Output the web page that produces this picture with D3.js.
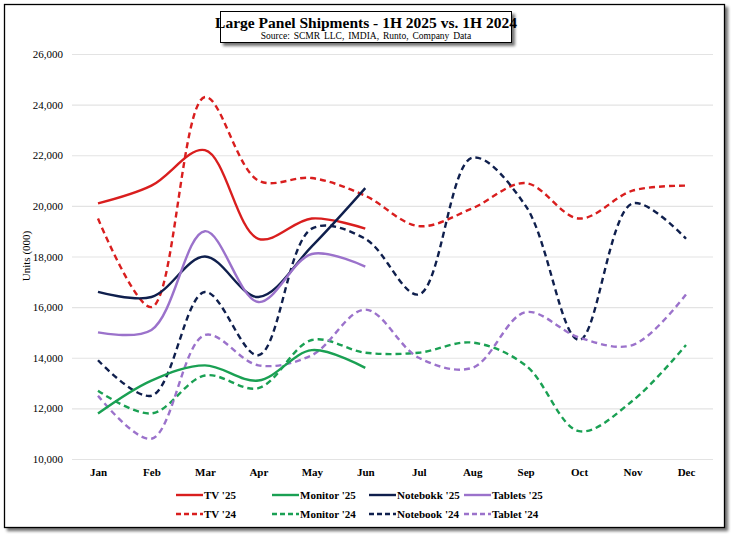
<!DOCTYPE html>
<html><head><meta charset="utf-8">
<script src="https://cdn.jsdelivr.net/npm/d3@7"></script>
<style>body{margin:0;background:#fff}svg{display:block}</style>
</head><body><svg id="c" width="737" height="540"></svg>
<script>
const months = ["Jan","Feb","Mar","Apr","May","Jun","Jul","Aug","Sep","Oct","Nov","Dec"];
const yTicks = [10000,12000,14000,16000,18000,20000,22000,24000,26000];
const tv25 = [20100,20800,22200,18700,19500,19100];
const tv24 = [19500,16000,24300,21000,21100,20400,19200,19900,20900,19500,20600,20800];
const monitor25 = [11800,13100,13700,13100,14300,13600];
const monitor24 = [12700,11800,13300,12800,14700,14200,14200,14600,13700,11100,12300,14500];
const notebook25 = [16600,16400,18000,16400,18400,20700];
const notebook24 = [13900,12500,16600,14100,19100,18700,16500,21900,20000,14700,20100,18700];
const tablets25 = [15000,15100,19000,16200,18100,17600];
const tablet24 = [12500,10800,14900,13700,14100,15900,14000,13600,15800,14800,14500,16500];

const series = [
  {name:"TV '25", data:tv25, color:"#d91e1e", dash:null},
  {name:"Monitor '25", data:monitor25, color:"#1aa053", dash:null},
  {name:"Notebokk '25", data:notebook25, color:"#0f1f4d", dash:null},
  {name:"Tablets '25", data:tablets25, color:"#9b72cb", dash:null},
  {name:"TV '24", data:tv24, color:"#d91e1e", dash:"6,4"},
  {name:"Monitor '24", data:monitor24, color:"#1aa053", dash:"6,4"},
  {name:"Notebook '24", data:notebook24, color:"#0f1f4d", dash:"6,4"},
  {name:"Tablet '24", data:tablet24, color:"#9b72cb", dash:"6,4"}
];

const svg = d3.select("#c");
const defs = svg.append("defs");
const f = defs.append("filter").attr("id","sh").attr("x","-5%").attr("y","-5%").attr("width","115%").attr("height","130%");
f.append("feGaussianBlur").attr("in","SourceAlpha").attr("stdDeviation",1.6);
f.append("feOffset").attr("dx",3).attr("dy",3).attr("result","o");
f.append("feComponentTransfer").append("feFuncA").attr("type","linear").attr("slope",0.55);
const m = f.append("feMerge"); m.append("feMergeNode"); m.append("feMergeNode").attr("in","SourceGraphic");

svg.append("rect").attr("x",4.5).attr("y",4.5).attr("width",720).attr("height",523)
  .attr("fill","#fff").attr("stroke","#000").attr("stroke-width",1.3).attr("filter","url(#sh)");

const x = d3.scalePoint().domain(months).range([98,686]);
const y = d3.scaleLinear().domain([10000,26000]).range([459,54]);

const serif = "'Liberation Serif','Times New Roman',serif";

const ya = svg.append("g").attr("transform","translate(72,0)")
  .call(d3.axisLeft(y).tickValues(yTicks).tickFormat(d3.format(",")).tickSize(-641).tickPadding(9));
ya.select(".domain").remove();
ya.selectAll(".tick line").attr("stroke","#e3e3e3").attr("stroke-width",1.2);
ya.selectAll("text").attr("font-family",serif).attr("font-size",11).attr("fill","#000");

const xa = svg.append("g").attr("transform","translate(0,459)")
  .call(d3.axisBottom(x).tickSize(0).tickPadding(9));
xa.select(".domain").remove();
xa.selectAll("text").attr("font-family",serif).attr("font-size",11).attr("font-weight","bold").attr("fill","#000");

svg.append("text").attr("transform","translate(30,256) rotate(-90)").attr("text-anchor","middle")
  .attr("font-family",serif).attr("font-size",11).text("Units (000)");

const line = d3.line().x((d,i)=>x(months[i])).y(d=>y(d)).curve(d3.curveCatmullRom.alpha(0.5));
const order = [4,5,6,7,0,1,2,3];
svg.append("g").selectAll("path").data(order.map(i=>series[i])).join("path")
  .attr("d",d=>line(d.data)).attr("fill","none").attr("stroke",d=>d.color)
  .attr("stroke-width",2.4).attr("stroke-dasharray",d=>d.dash);

svg.append("rect").attr("x",220.5).attr("y",11.5).attr("width",291).attr("height",31)
  .attr("fill","#fff").attr("stroke","#000").attr("stroke-width",1).attr("filter","url(#sh)");
svg.append("text").attr("x",366).attr("y",28).attr("text-anchor","middle").attr("font-family",serif)
  .attr("font-size",15.5).attr("font-weight","bold").text("Large Panel Shipments - 1H 2025 vs. 1H 2024");
svg.append("text").attr("x",366).attr("y",39).attr("text-anchor","middle").attr("font-family",serif)
  .attr("font-size",9.5).attr("word-spacing",1.5).text("Source: SCMR LLC, IMDIA, Runto, Company Data");

const legX = [176,272,369,464];
const leg = svg.append("g");
series.forEach((s,i)=>{
  const col = i%4, row = Math.floor(i/4);
  const lx = legX[col], ly = row===0?495:514;
  leg.append("line").attr("x1",lx).attr("x2",lx+27).attr("y1",ly).attr("y2",ly)
    .attr("stroke",s.color).attr("stroke-width",2.4).attr("stroke-dasharray",s.dash?"5,3":null);
  leg.append("text").attr("x",lx+28).attr("y",ly+4).attr("font-family",serif).attr("font-size",11)
    .attr("font-weight","bold").text(s.name);
});
</script></body></html>
